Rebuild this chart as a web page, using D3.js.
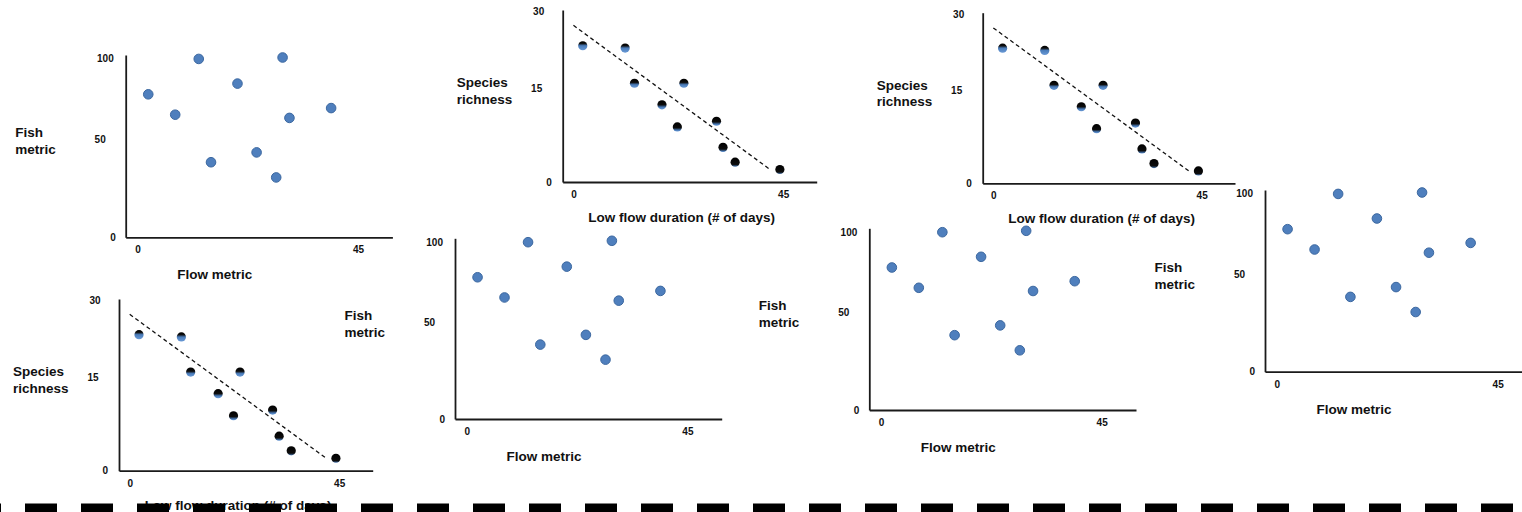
<!DOCTYPE html>
<html><head><meta charset="utf-8">
<script src="https://cdn.jsdelivr.net/npm/d3@7"></script>
<style>
html,body{margin:0;padding:0;background:#fff;}
svg{display:block;font-family:"Liberation Sans",Arial,sans-serif;font-weight:bold;}
</style></head><body>
<svg id="c" width="1522" height="512"></svg>
<script>
// ---- data ----
const fishX = [2.2, 7.7, 12.5, 15.0, 20.4, 24.3, 28.3, 29.6, 31.0, 39.5];
const fishY = [80.0, 68.6, 99.8, 42.0, 86.0, 47.5, 33.5, 100.6, 66.8, 72.3];
const richX = [2.0, 11.1, 13.1, 19.0, 22.3, 23.7, 30.7, 32.1, 34.7, 44.3];
const richY = [24.0, 23.6, 17.4, 13.6, 9.7, 17.4, 10.7, 6.1, 3.5, 2.2];
const trendX = [0, 42.2];
const trendY = [27.6, 2.2];
const xTicks = [0, 45];
const fishYTicks = [0, 50, 100];
const richYTicks = [0, 15, 30];
const fishYTitle = ["Fish", "metric"];
const richYTitle = ["Species", "richness"];
const fishXTitle = "Flow metric";
const richXTitle = "Low flow duration (# of days)";

// ---- layout ----
const fishCfg = {kind:"fish", xDom:[-2.4,52], yDom:[0,102], yTicks:fishYTicks, yGap:[10,20,12],
  xs:fishX, ys:fishY, xTitle:fishXTitle, yTitle:fishYTitle, xtOff:[89,37.5], ytOff:[-110.5,77.5,17]};
const richCfg = {kind:"rich", xDom:[-2.3,52.2], yDom:[0,30.3], yTicks:richYTicks, yGap:[11,20.5,18.5],
  xs:richX, ys:richY, xTitle:richXTitle, yTitle:richYTitle, xtOff:[119,35], ytOff:[-106,72.5,16.5]};
const panels = [
  [fishCfg, 125.7, 55, 392.4, 237.3],
  [richCfg, 562.7, 10, 816.7, 182],
  [richCfg, 982.7, 12.7, 1235, 183.3],
  [richCfg, 119, 299, 372.7, 470.7],
  [fishCfg, 455, 238.3, 721.7, 419],
  [fishCfg, 869.3, 228.3, 1136, 410],
  [fishCfg, 1265, 190, 1532, 371.7]
];

const svg = d3.select("#c");
const defs = svg.append("defs");
let gid = 0;

function drawPanel(cfg, left, top, right, bottom) {
  const g = svg.append("g");
  const x = d3.scaleLinear().domain(cfg.xDom).range([left, right]);
  const y = d3.scaleLinear().domain(cfg.yDom).range([bottom, top]);

  const xa = g.append("g").attr("transform", `translate(0,${bottom})`)
    .call(d3.axisBottom(x).tickValues(xTicks).tickSize(0).tickPadding(9).tickFormat(d3.format("d")));
  const ya = g.append("g").attr("transform", `translate(${left},0)`)
    .call(d3.axisLeft(y).tickValues(cfg.yTicks).tickSize(0).tickPadding(11).tickFormat(d3.format("d")));
  [xa, ya].forEach(a => {
    a.select(".domain").attr("stroke", "#1a1a1a").attr("stroke-width", 1.8);
    a.selectAll("text").attr("font-size", 10).attr("font-weight", "bold")
      .attr("font-family", '"Liberation Sans",Arial,sans-serif').attr("fill", "#111");
  });
  ya.selectAll(".tick text").each(function(d, i) {
    d3.select(this).attr("x", -cfg.yGap[i]);
    if (i === 1) d3.select(this).attr("y", -8.5);
  });

  if (cfg.kind === "rich") {
    const line = d3.line().x(d => x(d[0])).y(d => y(d[1]));
    g.append("path").datum(d3.zip(trendX, trendY)).attr("d", line)
      .attr("fill", "none").attr("stroke", "#111").attr("stroke-width", 1.3)
      .attr("stroke-dasharray", "4,3");
  }

  const pts = d3.zip(cfg.xs, cfg.ys);
  if (cfg.kind === "fish") {
    g.selectAll("circle").data(pts).join("circle")
      .attr("cx", d => x(d[0])).attr("cy", d => y(d[1])).attr("r", 4.8)
      .attr("fill", "#4f7fbd").attr("stroke", "#3c68a0").attr("stroke-width", 1);
  } else {
    g.selectAll("circle").data(pts).join("circle")
      .attr("cx", d => x(d[0])).attr("cy", d => y(d[1])).attr("r", 4.6)
      .attr("fill", d => {
        const id = "gr" + (gid++);
        const p = Math.max(0.2, Math.min(0.85, 0.22 + 0.62 * (1 - d[1] / 25)));
        const lg = defs.append("linearGradient").attr("id", id)
          .attr("x1", 0).attr("y1", 0).attr("x2", 0).attr("y2", 1);
        lg.append("stop").attr("offset", 0).attr("stop-color", "#000");
        lg.append("stop").attr("offset", p).attr("stop-color", "#0d0d0d");
        lg.append("stop").attr("offset", Math.min(1, p + 0.25)).attr("stop-color", "#4a7cba");
        lg.append("stop").attr("offset", 1).attr("stop-color", "#6a9ad6");
        return `url(#${id})`;
      });
  }

  // titles
  g.append("text").attr("x", left + cfg.xtOff[0]).attr("y", bottom + cfg.xtOff[1])
    .attr("text-anchor", "middle").attr("dominant-baseline", "central")
    .attr("font-size", 13.5).attr("fill", "#111").text(cfg.xTitle);
  cfg.yTitle.forEach((t, i) => {
    g.append("text").attr("x", left + cfg.ytOff[0]).attr("y", top + cfg.ytOff[1] + i * cfg.ytOff[2])
      .attr("dominant-baseline", "central")
      .attr("font-size", 13.5).attr("fill", "#111").text(t);
  });
}

panels.forEach(p => drawPanel(...p));

// separator
svg.append("line").attr("x1", -31).attr("x2", 1530).attr("y1", 508).attr("y2", 508)
  .attr("stroke", "#000").attr("stroke-width", 9).attr("stroke-dasharray", "32,24");
</script>
</body></html>
